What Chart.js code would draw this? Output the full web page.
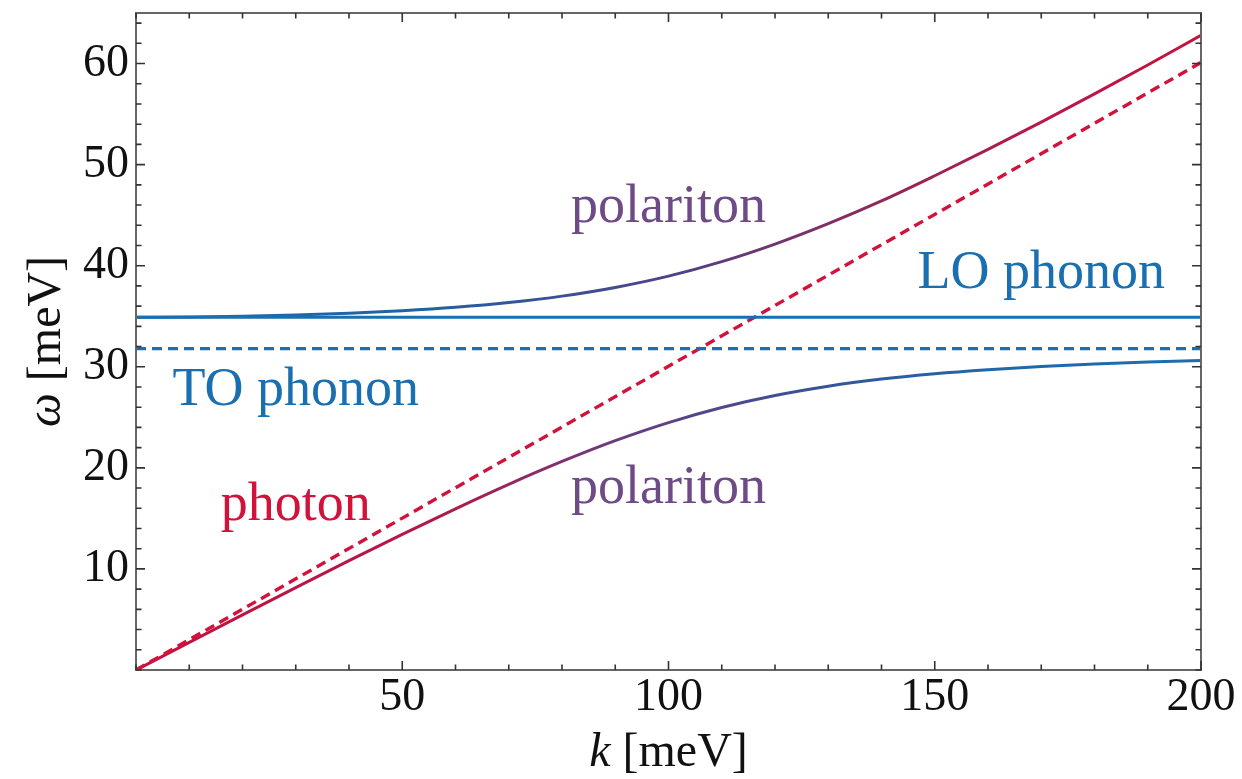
<!DOCTYPE html>
<html>
<head>
<meta charset="utf-8">
<script src="https://cdn.jsdelivr.net/npm/chart.js@4.4.1/dist/chart.umd.min.js"></script>
<style>
  html, body { margin: 0; padding: 0; background: #ffffff; }
  #wrap { width: 1242px; height: 779px; }
</style>
</head>
<body>
<div id="wrap"><canvas id="c" width="1242" height="779"></canvas></div>
<script>
// wave vector k [meV]
const kValues = [0, 10, 20, 30, 40, 50, 60, 70, 80, 90, 100, 110, 120, 130, 140, 150, 160, 170, 180, 190, 200];
// upper polariton branch ω [meV]
const upperBranch = [34.90, 34.92, 34.99, 35.11, 35.29, 35.54, 35.88, 36.35, 36.99, 37.85, 38.97, 40.40, 42.14, 44.16, 46.41, 48.90, 51.50, 54.20, 57.00, 59.85, 62.80];
// lower polariton branch ω [meV]
const lowerBranch = [0.00, 2.73, 5.45, 8.15, 10.82, 13.42, 15.95, 18.37, 20.63, 22.69, 24.48, 25.97, 27.16, 28.08, 28.78, 29.31, 29.71, 30.03, 30.27, 30.47, 30.63];
// bare photon line
const photonK = [0, 200];
const photonW = [0, 60.1];
// optical phonons
const phononK = [0, 200];
const loW = [34.9, 34.9];
const toW = [31.8, 31.8];
// labelled ticks
const xTickValues = [50, 100, 150, 200];
const yTickValues = [10, 20, 30, 40, 50, 60];

const BLUE = '#1a6fb0';
const RED = '#d3123c';
const DARK_RED = '#c4123f';
const PURPLE = '#6e4a87';
const SERIF = '"Liberation Serif", "DejaVu Serif", serif';

const pts = (xs, ys) => xs.map((x, i) => ({ x: x, y: ys[i] }));

function branchGradient(ctx, stops) {
  const area = ctx.chart.chartArea;
  if (!area) return PURPLE;
  const g = ctx.chart.ctx.createLinearGradient(area.left, 0, area.right, 0);
  stops.forEach(s => g.addColorStop(s[0], s[1]));
  return g;
}

const upperStops = [[0, BLUE], [0.25, '#1f63a6'], [0.5, '#4f4288'], [0.68, '#8a2a5e'], [0.85, '#b8184a'], [1, DARK_RED]];
const lowerStops = [[0, DARK_RED], [0.28, '#b2184a'], [0.45, '#6a3c80'], [0.62, '#3b5194'], [0.78, '#2166a8'], [1, BLUE]];

// text annotations placed in data coordinates
const annotations = [
  { text: 'polariton', k: 100, w: 44.3, color: PURPLE },
  { text: 'polariton', k: 100, w: 16.5, color: PURPLE },
  { text: 'photon', k: 30, w: 14.85, color: RED },
  { text: 'TO phonon', k: 30, w: 26.2, color: BLUE },
  { text: 'LO phonon', k: 170, w: 37.8, color: BLUE }
];

const framePlugin = {
  id: 'frame',
  afterDatasetsDraw(chart) {
    const { ctx, chartArea: a, scales: { x, y } } = chart;
    ctx.save();
    // annotations
    ctx.font = '54px ' + SERIF;
    ctx.textBaseline = 'alphabetic';
    ctx.textAlign = 'center';
    annotations.forEach(n => {
      ctx.fillStyle = n.color;
      ctx.fillText(n.text, x.getPixelForValue(n.k), y.getPixelForValue(n.w));
    });
    // frame
    ctx.strokeStyle = '#666666';
    ctx.lineWidth = 2;
    ctx.strokeRect(a.left, a.top, a.right - a.left, a.bottom - a.top);
    // inward ticks on all four sides
    ctx.strokeStyle = '#333333';
    ctx.lineWidth = 1.6;
    ctx.beginPath();
    for (let v = 0; v <= 200; v += 10) {
      const px = x.getPixelForValue(v);
      const len = xTickValues.includes(v) ? 9 : 5.5;
      ctx.moveTo(px, a.bottom); ctx.lineTo(px, a.bottom - len);
      ctx.moveTo(px, a.top); ctx.lineTo(px, a.top + len);
    }
    for (let v = 0; v <= 64; v += 2) {
      const py = y.getPixelForValue(v);
      const len = yTickValues.includes(v) ? 9 : 5.5;
      ctx.moveTo(a.left, py); ctx.lineTo(a.left + len, py);
      ctx.moveTo(a.right, py); ctx.lineTo(a.right - len, py);
    }
    ctx.stroke();
    // axis titles
    ctx.fillStyle = '#111111';
    ctx.textBaseline = 'alphabetic';
    const cx = (a.left + a.right) / 2;
    drawMixed(ctx, [['italic 48px ' + SERIF, 'k'], ['48px ' + SERIF, ' [meV]']], cx, 766);
    ctx.save();
    ctx.translate(60, (a.top + a.bottom) / 2);
    ctx.rotate(-Math.PI / 2);
    drawMixed(ctx, [['italic 48px ' + SERIF, 'ω'], ['48px ' + SERIF, ' [meV]']], 0, 0);
    ctx.restore();
    ctx.restore();
  }
};

function drawMixed(ctx, parts, cx, baseline) {
  let total = 0;
  const widths = parts.map(p => { ctx.font = p[0]; const w = ctx.measureText(p[1]).width; total += w; return w; });
  let xx = cx - total / 2;
  ctx.textAlign = 'left';
  parts.forEach((p, i) => { ctx.font = p[0]; ctx.fillText(p[1], xx, baseline); xx += widths[i]; });
}

new Chart(document.getElementById('c'), {
  type: 'line',
  data: {
    datasets: [
      { data: pts(phononK, toW), borderColor: BLUE, borderWidth: 3.4, borderDash: [10, 6], pointRadius: 0 },
      { data: pts(phononK, loW), borderColor: BLUE, borderWidth: 3, pointRadius: 0 },
      { data: pts(photonK, photonW), borderColor: RED, borderWidth: 3.4, borderDash: [10, 6], pointRadius: 0 },
      { data: pts(kValues, upperBranch), borderColor: c => branchGradient(c, upperStops), borderWidth: 3, pointRadius: 0, cubicInterpolationMode: 'monotone' },
      { data: pts(kValues, lowerBranch), borderColor: c => branchGradient(c, lowerStops), borderWidth: 3, pointRadius: 0, cubicInterpolationMode: 'monotone' }
    ]
  },
  options: {
    responsive: false,
    animation: false,
    devicePixelRatio: 1,
    layout: { padding: { top: 13, right: 41, left: 0, bottom: 0 } },
    plugins: { legend: { display: false }, tooltip: { enabled: false } },
    scales: {
      x: {
        type: 'linear', min: 0, max: 200,
        grid: { display: false, drawTicks: false },
        border: { display: false },
        afterBuildTicks: s => { s.ticks = xTickValues.map(v => ({ value: v })); },
        afterFit: s => { s.height = 109; s.paddingLeft = 0; s.paddingRight = 0; },
        ticks: { font: { family: SERIF, size: 46 }, color: '#111111', padding: 0, maxRotation: 0, autoSkip: false }
      },
      y: {
        type: 'linear', min: 0, max: 65,
        grid: { display: false, drawTicks: false },
        border: { display: false },
        afterBuildTicks: s => { s.ticks = yTickValues.map(v => ({ value: v })); },
        afterFit: s => { s.width = 136; s.paddingTop = 0; s.paddingBottom = 0; },
        ticks: { font: { family: SERIF, size: 46 }, color: '#111111', padding: 7, autoSkip: false }
      }
    }
  },
  plugins: [framePlugin]
});
</script>
</body>
</html>
